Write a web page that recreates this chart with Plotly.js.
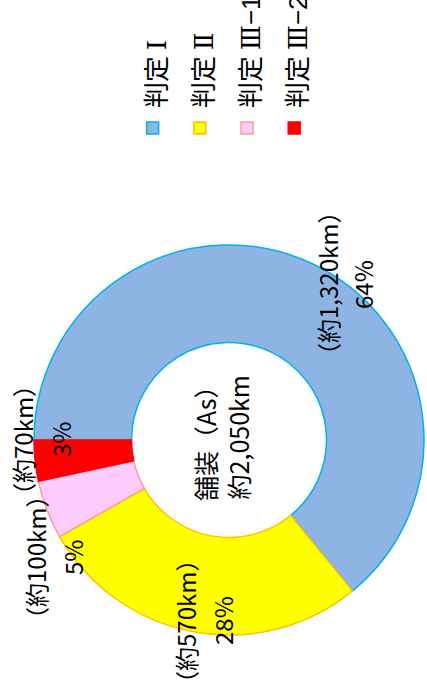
<!DOCTYPE html>
<html>
<head>
<meta charset="utf-8">
<script src="https://cdn.plot.ly/plotly-3.0.1.min.js"></script>
<style>
  html, body { margin: 0; padding: 0; width: 427px; height: 699px; overflow: hidden; background: #fff; }
  #chart { position: absolute; left: 0; top: 0; width: 699px; height: 427px;
           transform-origin: 0 0; transform: translate(0px, 699px) rotate(-90deg); }
</style>
</head>
<body>
<div id="chart"></div>
<script>
// ---- data ----
const categoryBase = ["判定", "判定", "判定", "判定"];
const categoryGrade = ["Ⅰ", "Ⅱ", "Ⅲ", "Ⅲ"];
const categorySuffix = ["", "", "−1", "−2"];
const lengthsKm = [1320, 570, 100, 70];
const totalKm = 2050;
const centerTitle = "舗装（As）";
const fillColors = ["#8EB4E3", "#FFFF00", "#FFCCFF", "#FF0000"];
const lineColors = ["#00B0F0", "#FFC000", "#FF9999", "#FF0000"];

// ---- derived text ----
const sum = lengthsKm.reduce((a, b) => a + b, 0);
const kmText = lengthsKm.map(v => "（約" + v.toLocaleString("en-US") + "km）");
const pctText = lengthsKm.map(v => Math.round(v / sum * 100) + "%");

const W = 699, H = 427;
const px = X => X / W;
const py = Y => 1 - Y / H;
const FONT = "Noto Sans CJK JP";

// label positions (layout only)
const kmPos = [[415, 327], [77, 185], [141, 36], [259, 22]];
const pctPos = [[414, 362], [78, 222], [141, 73], [259, 61]];

const annotations = [];
categoryGrade.forEach((c, i) => {
  annotations.push({ text: kmText[i], x: px(kmPos[i][0]), y: py(kmPos[i][1]), xref: "paper", yref: "paper",
    showarrow: false, xanchor: "center", yanchor: "middle", font: { family: FONT, size: 24, color: "#000" } });
  annotations.push({ text: pctText[i], x: px(pctPos[i][0]), y: py(pctPos[i][1]), xref: "paper", yref: "paper",
    showarrow: false, xanchor: "center", yanchor: "middle", font: { family: FONT, size: 24, color: "#000" } });
});
annotations.push({ text: centerTitle + "<br>約" + totalKm.toLocaleString("en-US") + "km",
  x: px(262), y: py(221), xref: "paper", yref: "paper", showarrow: false,
  xanchor: "center", yanchor: "middle", font: { family: FONT, size: 25, color: "#000" } });

const legendLabels = categoryBase.map((b, i) =>
  '<span style="font-size:26px">' + b + ' <span style="font-family:\'DejaVu Serif\'">' + categoryGrade[i] +
  '</span><span style="font-family:\'Liberation Sans\'">' + categorySuffix[i] + '</span></span>');

const cx = 259, cy = 229, R = 195;
const trace = {
  type: "pie",
  labels: legendLabels,
  values: lengthsKm,
  hole: 0.5,
  sort: false,
  direction: "clockwise",
  rotation: 0,
  textinfo: "none",
  hoverinfo: "none",
  marker: { colors: fillColors, line: { color: lineColors, width: 1.5 } },
  domain: { x: [(cx - R) / W, (cx + R) / W], y: [(H - cy - R) / H, (H - cy + R) / H] }
};

const layout = {
  width: W, height: H,
  margin: { l: 0, r: 0, t: 0, b: 0, autoexpand: false },
  paper_bgcolor: "#fff",
  showlegend: true,
  legend: { x: px(551), y: py(124), xanchor: "left", yanchor: "top",
            font: { family: FONT, size: 34, color: "#000" }, bgcolor: "rgba(0,0,0,0)", borderwidth: 0 },
  annotations: annotations
};

Plotly.newPlot("chart", [trace], layout, { staticPlot: true, responsive: false });
</script>
</body>
</html>
